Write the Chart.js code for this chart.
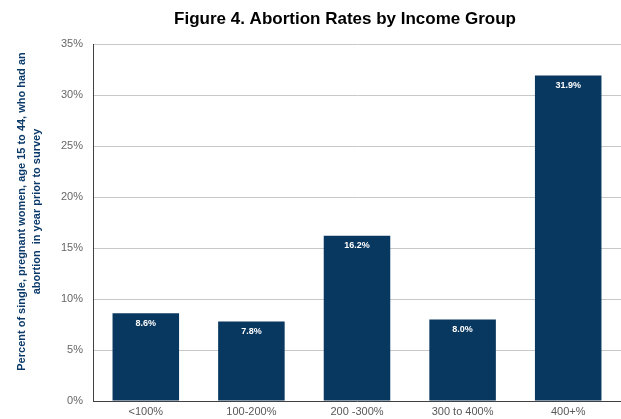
<!DOCTYPE html>
<html lang="en">
<head>
    <meta charset="UTF-8">
    <title>Figure 4. Abortion Rates by Income Group</title>
    <style>
        body {
            margin: 0;
            background-color: #ffffff;
        }
        #wrap {
            width: 621px;
            height: 419px;
        }
    </style>
</head>
<body>
    <div id="wrap"><canvas id="incomeChart" width="621" height="419"></canvas></div>

    <script src="https://cdn.jsdelivr.net/npm/chart.js"></script>
    <script>
        const incomeGroups = ['<100%', '100-200%', '200 -300%', '300 to 400%', '400+%'];
        const abortionRates = [8.6, 7.8, 16.2, 8.0, 31.9];
        const rateLabels = ['8.6%', '7.8%', '16.2%', '8.0%', '31.9%'];
        const yTicks = [0, 5, 10, 15, 20, 25, 30, 35];
        const chartTitle = 'Figure 4. Abortion Rates by Income Group';
        const yTitleLines = ['Percent of single, pregnant women, age 15 to 44, who had an', 'abortion  in year prior to survey'];

        const fontName = '"Liberation Sans", Arial, sans-serif';

        // white value labels just inside the top of each bar
        const barLabels = {
            id: 'barLabels',
            afterDatasetsDraw(chart) {
                const ctx = chart.ctx;
                const meta = chart.getDatasetMeta(0);
                ctx.save();
                ctx.fillStyle = '#ffffff';
                ctx.font = 'bold 9px ' + fontName;
                ctx.textAlign = 'center';
                ctx.textBaseline = 'middle';
                meta.data.forEach((bar, i) => {
                    ctx.fillText(rateLabels[i], bar.x, bar.y + 10);
                });
                ctx.restore();
            }
        };

        // title and rotated y title, placed like the original figure
        const titles = {
            id: 'titles',
            afterDraw(chart) {
                const ctx = chart.ctx;
                const area = chart.chartArea;
                ctx.save();
                ctx.fillStyle = '#000000';
                ctx.font = 'bold 17px ' + fontName;
                ctx.textAlign = 'center';
                ctx.textBaseline = 'middle';
                ctx.fillText(chartTitle, area.left + 252, 19);

                ctx.translate(0, (area.top + area.bottom) / 2 - 11);
                ctx.rotate(-Math.PI / 2);
                ctx.fillStyle = '#0b3a6a';
                ctx.font = 'bold 11px ' + fontName;
                ctx.fillText(yTitleLines[0], 0, 22);
                ctx.fillText(yTitleLines[1], 0, 37);
                ctx.restore();
            }
        };

        const chart = new Chart(document.getElementById('incomeChart').getContext('2d'), {
            type: 'bar',
            data: {
                labels: incomeGroups,
                datasets: [{
                    data: abortionRates,
                    backgroundColor: '#08375f',
                    borderWidth: 0,
                    categoryPercentage: 1,
                    barPercentage: 0.63
                }]
            },
            options: {
                responsive: false,
                animation: false,
                layout: { padding: { top: 44, left: 0, right: 0, bottom: 0 } },
                plugins: {
                    legend: { display: false },
                    tooltip: { enabled: false },
                    title: { display: false }
                },
                scales: {
                    x: {
                        grid: { display: false, drawTicks: false },
                        border: { color: '#404040', width: 1 },
                        ticks: {
                            color: '#595959',
                            font: { family: fontName, size: 11 },
                            padding: 4,
                            maxRotation: 0
                        },
                        afterFit(scale) { scale.height = 18; }
                    },
                    y: {
                        min: 0,
                        max: 35,
                        afterBuildTicks(scale) {
                            scale.ticks = yTicks.map(v => ({ value: v }));
                        },
                        grid: { color: '#c8c8c8', drawTicks: false },
                        border: { color: '#404040', width: 1 },
                        ticks: {
                            color: '#666666',
                            font: { family: fontName, size: 11 },
                            padding: 10,
                            callback: v => v + '%'
                        },
                        afterFit(scale) { scale.width = 93; }
                    }
                }
            },
            plugins: [barLabels, titles]
        });
    </script>
</body>
</html>
